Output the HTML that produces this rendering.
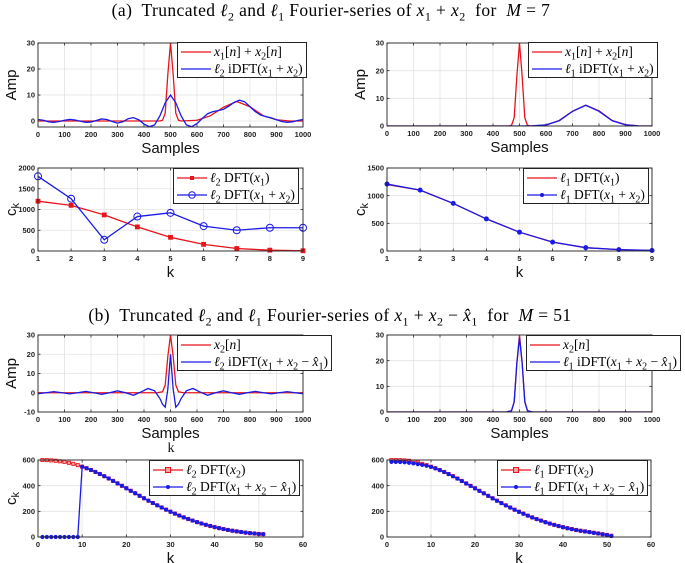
<!DOCTYPE html>
<html><head><meta charset="utf-8">
<style>
body{margin:0;background:#fff;width:685px;height:563px;overflow:hidden;position:relative;font-family:"Liberation Sans",sans-serif;}
svg{position:absolute;left:0;top:0;}
.lg{position:absolute;border:1px solid #222;background:#fff;font-family:"Liberation Serif",serif;font-size:13.5px;line-height:17px;padding:0 3px;white-space:nowrap;}
.row{display:flex;align-items:center;height:17px;}
.smp{width:30px;height:12px;margin-right:3px;flex:none;}
i{font-style:italic;}
.title{position:absolute;font-family:"Liberation Serif",serif;font-size:17.5px;letter-spacing:0.4px;white-space:nowrap;text-align:center;}
sub{font-size:10px;line-height:0;}
</style></head><body>
<div class="title" style="left:31px;width:600px;top:0px">(a)&nbsp; Truncated <i>ℓ</i><sub style="font-size:12px">2</sub> and <i>ℓ</i><sub style="font-size:12px">1</sub> Fourier-series of <i>x</i><sub style="font-size:12px">1</sub> + <i>x</i><sub style="font-size:12px">2</sub> &nbsp;for &nbsp;<i>M</i> = 7</div>
<div class="title" style="left:30px;width:600px;top:305px">(b)&nbsp; Truncated <i>ℓ</i><sub style="font-size:12px">2</sub> and <i>ℓ</i><sub style="font-size:12px">1</sub> Fourier-series of <i>x</i><sub style="font-size:12px">1</sub> + <i>x</i><sub style="font-size:12px">2</sub> − <i>x̂</i><sub style="font-size:12px">1</sub> &nbsp;for &nbsp;<i>M</i> = 51</div>
<svg id="fig" width="685" height="563"></svg>
<script>
// ---- data ----
const redA_x=[0,100,200,300,400,460,470,480,490,500,510,520,530,540,600,650,700,750,800,850,900,950,1000];
const redA_y=[0,0,0,0,0,0,0.3,3,18,30,18,3,0.3,0,0.3,2,5.3,7.5,5.5,2,0.5,0,0];
const blueL2A_x=[0,20,40,60,80,100,120,140,160,180,200,220,240,260,280,300,320,340,360,380,400,420,440,460,480,500,520,540,560,580,600,620,640,660,680,700,720,740,760,780,800,820,840,860,880,900,920,940,960,980,1000];
const blueL2A_y=[0.6,0.3,-0.3,-0.5,-0.2,0.3,0.6,0.4,-0.1,-0.5,-0.4,0.2,0.8,0.6,-0.2,-0.8,-0.3,0.9,1.3,0.5,-1.2,-2.2,-1.5,2,7,10,7,2,-1.5,-2.2,-1,1,2.8,3.6,4,4.5,5.7,7.2,8,7.4,5.5,3.6,2.3,1.7,1.2,0.5,-0.2,-0.5,-0.3,0.2,0.6];
const blueL1A_x=[0,500,550,600,650,700,750,800,850,900,950,1000];
const blueL1A_y=[0,0,0.1,0.4,1.9,5.3,7.5,5.3,1.9,0.4,0.05,0];
const kA=[1,2,3,4,5,6,7,8,9];
const redCkL2A=[1200,1100,870,580,330,160,60,20,5];
const blueCkL2A=[1800,1260,270,830,920,600,500,560,560];
const redCkL1A=[1200,1100,860,580,340,160,60,25,8];
const blueCkL1A=[1210,1100,860,580,340,160,60,25,10];
const redB_x=[0,450,470,480,490,500,510,520,530,550,1000];
const redB_y=[0,0,0.5,4,19,30,19,4,0.5,0,0];
const blueL2B_x=[0,30,60,90,120,150,180,210,240,270,300,330,360,390,415,440,460,470,480,490,500,510,520,530,540,560,585,610,640,670,700,730,760,790,820,850,880,910,940,970,1000];
const blueL2B_y=[-0.5,0,0.6,0,-0.6,0,0.7,0,-0.8,0,1,0,-1.3,0.5,2.2,1,-3,-6,-7.5,2,20,2,-7.5,-6,-3,1,2.2,0.5,-1.3,0,1,0,-0.8,0,0.7,0,-0.6,0,0.6,0,-0.5];
const blueL1B_x=[0,450,470,480,490,500,510,520,530,550,1000];
const blueL1B_y=[0,0,0.5,4,19,29,19,4,0.5,0,0];
const kB=[1,2,3,4,5,6,7,8,9,10,11,12,13,14,15,16,17,18,19,20,21,22,23,24,25,26,27,28,29,30,31,32,33,34,35,36,37,38,39,40,41,42,43,44,45,46,47,48,49,50,51];
const redCkL2B=[600,599,597,594,590,585,578,570,560,548,536,522,507,491,474,456,437,418,399,380,360,341,321,302,283,265,247,230,213,197,182,167,153,140,128,116,105,95,86,77,69,62,55,49,44,39,34,30,27,24,22];
const blueCkL2B=[0,0,0,0,0,0,0,0,0,548,536,522,507,491,474,456,437,418,399,380,360,341,321,302,283,265,247,230,213,197,182,167,153,140,128,116,105,95,86,77,69,62,55,49,44,39,34,30,27,24,22];
const redCkL1B=[600,600,599,597,594,588,580,570,560,548,536,522,507,491,474,456,437,418,399,380,360,341,321,302,283,265,247,230,213,197,182,167,153,140,128,116,105,95,86,77,69,62,55,49,44,39,33,28,22,16,10];
const blueCkL1B=[585,585,584,582,578,574,568,562,555,546,535,521,506,490,473,455,436,417,398,379,359,340,320,301,282,264,246,229,212,196,181,166,152,139,127,115,104,94,85,76,68,61,54,48,43,38,32,27,21,15,8];
const ticks1000=[0,100,200,300,400,500,600,700,800,900,1000];
const ticks9=[1,2,3,4,5,6,7,8,9];
const ticks60=[0,10,20,30,40,50,60];

const NS='http://www.w3.org/2000/svg';
const svg=document.getElementById('fig');
function mk(tag,attrs,parent){const e=document.createElementNS(NS,tag);for(const k in attrs)e.setAttribute(k,attrs[k]);(parent||svg).appendChild(e);return e;}
function panel(name,P){
  const g=mk('g',{});
  
  
  const sx=v=>P.x0+(v-P.xmin)/(P.xmax-P.xmin)*(P.x1-P.x0);
  const sy=v=>P.yB-(v-P.ymin)/(P.ymax-P.ymin)*(P.yB-P.yT);
  P.xticks.forEach(t=>{const x=sx(t);mk('line',{x1:x,x2:x,y1:P.yT,y2:P.yB,stroke:'#e3e3e3','stroke-width':0.8},g);
    mk('line',{x1:x,x2:x,y1:P.yB,y2:P.yB-2.5,stroke:'#222','stroke-width':0.8},g);mk('line',{x1:x,x2:x,y1:P.yT,y2:P.yT+2.5,stroke:'#222','stroke-width':0.8},g);
    const tx=mk('text',{x:x,y:P.yB+10,'font-size':7.5,'font-weight':'bold','text-anchor':'middle',fill:'#222'},g);tx.textContent=t;
    
    });
  P.yticks.forEach(t=>{const y=sy(t);mk('line',{x1:P.x0,x2:P.x1,y1:y,y2:y,stroke:'#e3e3e3','stroke-width':0.8},g);
    mk('line',{x1:P.x0,x2:P.x0+2.5,y1:y,y2:y,stroke:'#222','stroke-width':0.8},g);mk('line',{x1:P.x1,x2:P.x1-2.5,y1:y,y2:y,stroke:'#222','stroke-width':0.8},g);
    const tx=mk('text',{x:P.x0-3,y:y+2.6,'font-size':7.5,'font-weight':'bold','text-anchor':'end',fill:'#222'},g);tx.textContent=t;
    
    });
  const cid='c'+name;const cp=mk('clipPath',{id:cid},g);mk('rect',{x:P.x0,y:P.yT,width:P.x1-P.x0,height:P.yB-P.yT},cp);
  P.series.forEach(s=>{
    const pts=s.x.map((v,i)=>sx(v).toFixed(2)+','+sy(s.y[i]).toFixed(2)).join(' ');
    const pl=mk('polyline',{points:pts,fill:'none',stroke:s.c,'stroke-width':s.w||1.3,'clip-path':'url(#'+cid+')'},g);
    
    
    if(s.m){s.x.forEach((v,i)=>{const x=sx(v),y=sy(s.y[i]);let e;
      if(s.m==='sq')e=mk('rect',{x:x-(s.ms||2),y:y-(s.ms||2),width:2*(s.ms||2),height:2*(s.ms||2),fill:s.f||s.c,stroke:s.c,'stroke-width':0.8},g);
      else e=mk('circle',{cx:x,cy:y,r:s.ms||2,fill:s.f||s.c,stroke:s.c,'stroke-width':1},g);
      
      });}
  });
  mk('rect',{x:P.x0,y:P.yT,width:P.x1-P.x0,height:P.yB-P.yT,fill:'none',stroke:'#222','stroke-width':0.9},g);
  const xl=mk('text',{x:(P.x0+P.x1)/2,y:P.yB+26,'font-size':15,'text-anchor':'middle',fill:'#111'},g);xl.textContent=P.xlab;
  
  
  if(P.ylab){const cy=(P.yT+P.yB)/2;const yl=mk('text',{x:0,y:0,'font-size':15,'text-anchor':'middle',fill:'#111',transform:'translate('+(P.x0-22)+','+cy+') rotate(-90)'},g);
    if(P.ylab==='ck'){yl.textContent='c';const ts=mk('tspan',{'font-size':11,dy:3},yl);ts.textContent='k';}else yl.textContent=P.ylab;
    
    }
}
const R='#e8141b',B='#1a1ae6';
panel('plot-a-l2-time',{x0:38,x1:303,yT:43,yB:127,xmin:0,xmax:1000,ymin:-2.3,ymax:30,xticks:ticks1000,yticks:[0,10,20,30],xlab:'Samples',ylab:'Amp',
 series:[{name:'red-signal',x:redA_x,y:redA_y,c:R},{name:'blue-l2-idft',x:blueL2A_x,y:blueL2A_y,c:B}]});
panel('plot-a-l1-time',{x0:387,x1:652,yT:43,yB:126,xmin:0,xmax:1000,ymin:0,ymax:30,xticks:ticks1000,yticks:[0,10,20,30],xlab:'Samples',ylab:'Amp',
 series:[{name:'red-signal',x:redA_x,y:redA_y,c:R},{name:'blue-l1-idft',x:blueL1A_x,y:blueL1A_y,c:B}]});
panel('plot-a-l2-coef',{x0:38,x1:303,yT:168,yB:251,xmin:1,xmax:9,ymin:0,ymax:2000,xticks:ticks9,yticks:[0,500,1000,1500,2000],xlab:'k',ylab:'ck',
 series:[{name:'red-dft-x1',x:kA,y:redCkL2A,c:R,m:'sq',ms:2},{name:'blue-dft-x1x2',x:kA,y:blueCkL2A,c:B,m:'c',ms:3.5,f:'none'}]});
panel('plot-a-l1-coef',{x0:387,x1:652,yT:168,yB:251,xmin:1,xmax:9,ymin:0,ymax:1500,xticks:ticks9,yticks:[0,500,1000,1500],xlab:'k',ylab:'ck',
 series:[{name:'red-dft-x1',x:kA,y:redCkL1A,c:R},{name:'blue-dft-x1x2',x:kA,y:blueCkL1A,c:B,m:'c',ms:2}]});
panel('plot-b-l2-time',{x0:38,x1:303,yT:335,yB:412,xmin:0,xmax:1000,ymin:-10,ymax:30,xticks:ticks1000,yticks:[-10,0,10,20,30],xlab:'Samples',ylab:'Amp',
 series:[{name:'red-signal',x:redB_x,y:redB_y,c:R},{name:'blue-l2-idft',x:blueL2B_x,y:blueL2B_y,c:B}]});
panel('plot-b-l1-time',{x0:387,x1:652,yT:335,yB:412,xmin:0,xmax:1000,ymin:0,ymax:30,xticks:ticks1000,yticks:[0,10,20,30],xlab:'Samples',ylab:'',
 series:[{name:'red-signal',x:redB_x,y:redB_y,c:R},{name:'blue-l1-idft',x:blueL1B_x,y:blueL1B_y,c:B}]});
panel('plot-b-l2-coef',{x0:38,x1:303,yT:460,yB:537,xmin:0,xmax:60,ymin:0,ymax:600,xticks:ticks60,yticks:[0,200,400,600],xlab:'k',ylab:'ck',
 series:[{name:'red-dft-x2',x:kB,y:redCkL2B,c:R,m:'sq',ms:1.6,f:'#f6a0a0'},{name:'blue-dft-resid',x:kB,y:blueCkL2B,c:B,m:'c',ms:1.6}]});
panel('plot-b-l1-coef',{x0:387,x1:651,yT:460,yB:537,xmin:0,xmax:60,ymin:0,ymax:600,xticks:ticks60,yticks:[0,200,400,600],xlab:'k',ylab:'',
 series:[{name:'red-dft-x2',x:kB,y:redCkL1B,c:R,m:'sq',ms:1.6,f:'#f6a0a0'},{name:'blue-dft-resid',x:kB,y:blueCkL1B,c:B,m:'c',ms:1.6}]});
const kx=mk('text',{x:171,y:452,'font-size':14,'font-family':'Liberation Serif, serif','text-anchor':'middle',fill:'#111'});kx.textContent='k';


</script>
<div class="lg" style="left:177px;top:42px">
<div class="row"><svg class="smp" viewBox="0 0 30 12" style="position:static"><line x1="0" y1="6" x2="30" y2="6" stroke="#e8141b" stroke-width="1.3"/></svg><span><i>x</i><sub>1</sub>[<i>n</i>] + <i>x</i><sub>2</sub>[<i>n</i>]</span></div>
<div class="row"><svg class="smp" viewBox="0 0 30 12" style="position:static"><line x1="0" y1="6" x2="30" y2="6" stroke="#1a1ae6" stroke-width="1.3"/></svg><span><i>ℓ</i><sub>2</sub> iDFT(<i>x</i><sub>1</sub> + <i>x</i><sub>2</sub>)</span></div></div>
<div class="lg" style="left:528px;top:42px">
<div class="row"><svg class="smp" viewBox="0 0 30 12" style="position:static"><line x1="0" y1="6" x2="30" y2="6" stroke="#e8141b" stroke-width="1.3"/></svg><span><i>x</i><sub>1</sub>[<i>n</i>] + <i>x</i><sub>2</sub>[<i>n</i>]</span></div>
<div class="row"><svg class="smp" viewBox="0 0 30 12" style="position:static"><line x1="0" y1="6" x2="30" y2="6" stroke="#1a1ae6" stroke-width="1.3"/></svg><span><i>ℓ</i><sub>1</sub> iDFT(<i>x</i><sub>1</sub> + <i>x</i><sub>2</sub>)</span></div></div>
<div class="lg" style="left:173px;top:168px">
<div class="row"><svg class="smp" viewBox="0 0 30 12" style="position:static"><line x1="0" y1="6" x2="30" y2="6" stroke="#e8141b" stroke-width="1.3"/><rect x="13" y="4" width="4" height="4" fill="#e8141b"/></svg><span><i>ℓ</i><sub>2</sub> DFT(<i>x</i><sub>1</sub>)</span></div>
<div class="row"><svg class="smp" viewBox="0 0 30 12" style="position:static"><line x1="0" y1="6" x2="30" y2="6" stroke="#1a1ae6" stroke-width="1.3"/><circle cx="15" cy="6" r="3.3" fill="none" stroke="#1a1ae6"/></svg><span><i>ℓ</i><sub>2</sub> DFT(<i>x</i><sub>1</sub> + <i>x</i><sub>2</sub>)</span></div></div>
<div class="lg" style="left:523px;top:168px">
<div class="row"><svg class="smp" viewBox="0 0 30 12" style="position:static"><line x1="0" y1="6" x2="30" y2="6" stroke="#e8141b" stroke-width="1.3"/></svg><span><i>ℓ</i><sub>1</sub> DFT(<i>x</i><sub>1</sub>)</span></div>
<div class="row"><svg class="smp" viewBox="0 0 30 12" style="position:static"><line x1="0" y1="6" x2="30" y2="6" stroke="#1a1ae6" stroke-width="1.3"/><circle cx="15" cy="6" r="2" fill="#1a1ae6"/></svg><span><i>ℓ</i><sub>1</sub> DFT(<i>x</i><sub>1</sub> + <i>x</i><sub>2</sub>)</span></div></div>
<div class="lg" style="left:177px;top:335px">
<div class="row"><svg class="smp" viewBox="0 0 30 12" style="position:static"><line x1="0" y1="6" x2="30" y2="6" stroke="#e8141b" stroke-width="1.3"/></svg><span><i>x</i><sub>2</sub>[<i>n</i>]</span></div>
<div class="row"><svg class="smp" viewBox="0 0 30 12" style="position:static"><line x1="0" y1="6" x2="30" y2="6" stroke="#1a1ae6" stroke-width="1.3"/></svg><span><i>ℓ</i><sub>2</sub> iDFT(<i>x</i><sub>1</sub> + <i>x</i><sub>2</sub> − <i>x̂</i><sub>1</sub>)</span></div></div>
<div class="lg" style="left:526px;top:335px">
<div class="row"><svg class="smp" viewBox="0 0 30 12" style="position:static"><line x1="0" y1="6" x2="30" y2="6" stroke="#e8141b" stroke-width="1.3"/></svg><span><i>x</i><sub>2</sub>[<i>n</i>]</span></div>
<div class="row"><svg class="smp" viewBox="0 0 30 12" style="position:static"><line x1="0" y1="6" x2="30" y2="6" stroke="#1a1ae6" stroke-width="1.3"/></svg><span><i>ℓ</i><sub>1</sub> iDFT(<i>x</i><sub>1</sub> + <i>x</i><sub>2</sub> − <i>x̂</i><sub>1</sub>)</span></div></div>
<div class="lg" style="left:149px;top:460px">
<div class="row"><svg class="smp" viewBox="0 0 30 12" style="position:static"><line x1="0" y1="6" x2="30" y2="6" stroke="#e8141b" stroke-width="1.3"/><rect x="12.5" y="3.5" width="5" height="5" fill="#f6a0a0" stroke="#e8141b"/></svg><span><i>ℓ</i><sub>2</sub> DFT(<i>x</i><sub>2</sub>)</span></div>
<div class="row"><svg class="smp" viewBox="0 0 30 12" style="position:static"><line x1="0" y1="6" x2="30" y2="6" stroke="#1a1ae6" stroke-width="1.3"/><circle cx="15" cy="6" r="2" fill="#1a1ae6"/></svg><span><i>ℓ</i><sub>2</sub> DFT(<i>x</i><sub>1</sub> + <i>x</i><sub>2</sub> − <i>x̂</i><sub>1</sub>)</span></div></div>
<div class="lg" style="left:497px;top:460px">
<div class="row"><svg class="smp" viewBox="0 0 30 12" style="position:static"><line x1="0" y1="6" x2="30" y2="6" stroke="#e8141b" stroke-width="1.3"/><rect x="12.5" y="3.5" width="5" height="5" fill="#f6a0a0" stroke="#e8141b"/></svg><span><i>ℓ</i><sub>1</sub> DFT(<i>x</i><sub>2</sub>)</span></div>
<div class="row"><svg class="smp" viewBox="0 0 30 12" style="position:static"><line x1="0" y1="6" x2="30" y2="6" stroke="#1a1ae6" stroke-width="1.3"/><circle cx="15" cy="6" r="2" fill="#1a1ae6"/></svg><span><i>ℓ</i><sub>1</sub> DFT(<i>x</i><sub>1</sub> + <i>x</i><sub>2</sub> − <i>x̂</i><sub>1</sub>)</span></div></div>
</body></html>
